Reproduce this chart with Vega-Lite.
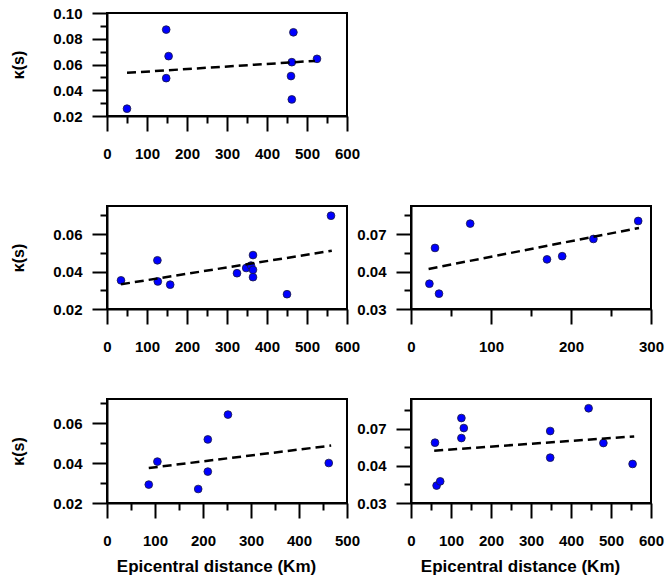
{
  "$schema": "https://vega.github.io/schema/vega-lite/v6.json",
  "background": "white",
  "padding": {"left": 9, "top": 5, "right": 5, "bottom": 5},
  "bounds": "flush",
  "columns": 2,
  "spacing": {"row": 90, "column": 64},
  "datasets": {
    "golp": [
      {"dist": 50, "k": 0.0257},
      {"dist": 148, "k": 0.0871},
      {"dist": 154, "k": 0.0665},
      {"dist": 148, "k": 0.0494},
      {"dist": 466, "k": 0.085},
      {"dist": 462, "k": 0.0618},
      {"dist": 460, "k": 0.051},
      {"dist": 462, "k": 0.0329},
      {"dist": 525, "k": 0.0644}
    ],
    "golp_fit": [{"dist": 50, "k": 0.0535}, {"dist": 520, "k": 0.0628}],
    "gwat": [
      {"dist": 35, "k": 0.0353},
      {"dist": 126, "k": 0.046},
      {"dist": 127, "k": 0.0347},
      {"dist": 158, "k": 0.033},
      {"dist": 325, "k": 0.0391},
      {"dist": 348, "k": 0.0419},
      {"dist": 360, "k": 0.0432},
      {"dist": 365, "k": 0.0409},
      {"dist": 365, "k": 0.0488},
      {"dist": 365, "k": 0.037},
      {"dist": 450, "k": 0.0279},
      {"dist": 560, "k": 0.0698}
    ],
    "gwat_fit": [{"dist": 35, "k": 0.0332}, {"dist": 562, "k": 0.0511}],
    "gang": [
      {"dist": 23, "k": 0.0335},
      {"dist": 30, "k": 0.0526},
      {"dist": 35, "k": 0.0282},
      {"dist": 74, "k": 0.0656},
      {"dist": 170, "k": 0.0465},
      {"dist": 189, "k": 0.0482},
      {"dist": 228, "k": 0.0574},
      {"dist": 284, "k": 0.067}
    ],
    "gang_fit": [{"dist": 22, "k": 0.0414}, {"dist": 285, "k": 0.0633}],
    "diphu": [
      {"dist": 87, "k": 0.0292},
      {"dist": 105, "k": 0.0407},
      {"dist": 190, "k": 0.027},
      {"dist": 210, "k": 0.0518},
      {"dist": 210, "k": 0.0357},
      {"dist": 252, "k": 0.0642},
      {"dist": 462, "k": 0.04}
    ],
    "diphu_fit": [{"dist": 87, "k": 0.0375}, {"dist": 467, "k": 0.0487}],
    "bong": [
      {"dist": 60, "k": 0.0526},
      {"dist": 64, "k": 0.0294},
      {"dist": 73, "k": 0.0317},
      {"dist": 126, "k": 0.0659},
      {"dist": 132, "k": 0.0605},
      {"dist": 126, "k": 0.0551},
      {"dist": 348, "k": 0.0589},
      {"dist": 348, "k": 0.0445},
      {"dist": 444, "k": 0.0712},
      {"dist": 481, "k": 0.0524},
      {"dist": 554, "k": 0.0411}
    ],
    "bong_fit": [{"dist": 58, "k": 0.0483}, {"dist": 558, "k": 0.056}],
    "blank": [{"a": 1}]
  },
  "config": {
    "font": "Liberation Sans",
    "view": {"stroke": "black", "strokeWidth": 2},
    "axis": {
      "domainColor": "black",
      "domainWidth": 2,
      "tickColor": "black",
      "tickWidth": 2,
      "grid": false,
      "labelFont": "Liberation Sans",
      "labelFontWeight": "bold",
      "labelFontSize": 15,
      "labelColor": "black",
      "labelOverlap": false,
      "titleFont": "Liberation Sans",
      "titleFontWeight": "bold",
      "titleFontSize": 16,
      "titleColor": "black"
    },
    "axisX": {"labelPadding": 30, "labelFlush": false, "ticks": false},
    "axisY": {"labelPadding": 25, "ticks": false}
  },
  "concat": [
    {
      "width": 240,
      "height": 103,
      "resolve": {"axis": {"x": "independent", "y": "independent"}},
      "layer": [
        {
          "data": {"name": "golp"},
          "mark": {"type": "point", "shape": "circle", "filled": true, "opacity": 1, "size": 60, "color": "#0000ff", "stroke": "#1a1a40", "strokeWidth": 0.8},
          "encoding": {
            "x": {"field": "dist", "type": "quantitative", "scale": {"domain": [0, 600], "nice": false},
              "axis": {"orient": "bottom", "title": null, "values": [0,100,200,300,400,500,600]}},
            "y": {"field": "k", "type": "quantitative", "scale": {"domain": [0.02, 0.10], "nice": false, "zero": false},
              "axis": {"orient": "left", "title": "κ(s)", "titlePadding": 26, "format": ".2f", "values": [0.02,0.04,0.06,0.08,0.10]}}
          }
        },
        {
          "data": {"name": "golp_fit"},
          "mark": {"type": "line", "color": "black", "strokeWidth": 2.5, "strokeDash": [9, 5]},
          "encoding": {
            "x": {"field": "dist", "type": "quantitative", "axis": {"orient": "bottom", "title": null, "labels": false, "domain": false, "ticks": true, "values": [50,150,250,350,450,550], "tickSize": 7}},
            "y": {"field": "k", "type": "quantitative", "axis": {"orient": "left", "title": null, "labels": false, "domain": false, "ticks": true, "values": [0.03,0.05,0.07,0.09], "tickSize": 7}}
          }
        },
        {
          "mark": {"type": "text", "text": "GOLP", "align": "right", "baseline": "middle", "fontSize": 17, "fontWeight": "bold", "font": "Liberation Sans", "color": "black"},
          "encoding": {
            "x": {"datum": 588, "type": "quantitative", "axis": {"orient": "bottom", "title": null, "labels": false, "domain": false, "ticks": true, "values": [0,100,200,300,400,500,600], "tickSize": 15}},
            "y": {"datum": 0.0891, "type": "quantitative", "axis": {"orient": "left", "title": null, "labels": false, "domain": false, "ticks": true, "values": [0.02,0.04,0.06,0.08,0.10], "tickSize": 15}}
          }
        }
      ]
    },
    {
      "width": 240,
      "height": 103,
      "view": {"stroke": null},
      "data": {"name": "blank"},
      "mark": {"type": "point", "opacity": 0},
      "encoding": {
        "x": {"field": "a", "type": "quantitative", "axis": null},
        "y": {"field": "a", "type": "quantitative", "axis": null}
      }
    },
    {
      "width": 240,
      "height": 103,
      "resolve": {"axis": {"x": "independent", "y": "independent"}},
      "layer": [
        {
          "data": {"name": "gwat"},
          "mark": {"type": "point", "shape": "circle", "filled": true, "opacity": 1, "size": 60, "color": "#0000ff", "stroke": "#1a1a40", "strokeWidth": 0.8},
          "encoding": {
            "x": {"field": "dist", "type": "quantitative", "scale": {"domain": [0, 600], "nice": false},
              "axis": {"orient": "bottom", "title": null, "values": [0,100,200,300,400,500,600]}},
            "y": {"field": "k", "type": "quantitative", "scale": {"domain": [0.02, 0.075], "nice": false, "zero": false},
              "axis": {"orient": "left", "title": "κ(s)", "titlePadding": 26, "format": ".2f", "values": [0.02,0.04,0.06]}}
          }
        },
        {
          "data": {"name": "gwat_fit"},
          "mark": {"type": "line", "color": "black", "strokeWidth": 2.5, "strokeDash": [9, 5]},
          "encoding": {
            "x": {"field": "dist", "type": "quantitative", "axis": {"orient": "bottom", "title": null, "labels": false, "domain": false, "ticks": true, "values": [50,150,250,350,450,550], "tickSize": 7}},
            "y": {"field": "k", "type": "quantitative", "axis": {"orient": "left", "title": null, "labels": false, "domain": false, "ticks": true, "values": [0.03,0.05,0.07], "tickSize": 7}}
          }
        },
        {
          "mark": {"type": "text", "text": "GWAT", "align": "right", "baseline": "middle", "fontSize": 17, "fontWeight": "bold", "font": "Liberation Sans", "color": "black"},
          "encoding": {
            "x": {"datum": 522, "type": "quantitative", "axis": {"orient": "bottom", "title": null, "labels": false, "domain": false, "ticks": true, "values": [0,100,200,300,400,500,600], "tickSize": 15}},
            "y": {"datum": 0.065, "type": "quantitative", "axis": {"orient": "left", "title": null, "labels": false, "domain": false, "ticks": true, "values": [0.02,0.04,0.06], "tickSize": 15}}
          }
        }
      ]
    },
    {
      "width": 240,
      "height": 103,
      "resolve": {"axis": {"x": "independent", "y": "independent"}},
      "layer": [
        {
          "data": {"name": "gang"},
          "mark": {"type": "point", "shape": "circle", "filled": true, "opacity": 1, "size": 60, "color": "#0000ff", "stroke": "#1a1a40", "strokeWidth": 0.8},
          "encoding": {
            "x": {"field": "dist", "type": "quantitative", "scale": {"domain": [0, 300], "nice": false},
              "axis": {"orient": "bottom", "title": null, "values": [0,100,200,300]}},
            "y": {"field": "k", "type": "quantitative", "scale": {"domain": [0.02, 0.075], "nice": false, "zero": false},
              "axis": {"orient": "left", "title": null, "values": [0.02,0.04,0.06],
                "labelExpr": "datum.value < 0.03 ? '0.03' : datum.value < 0.05 ? '0.04' : '0.07'"}}
          }
        },
        {
          "data": {"name": "gang_fit"},
          "mark": {"type": "line", "color": "black", "strokeWidth": 2.5, "strokeDash": [9, 5]},
          "encoding": {
            "x": {"field": "dist", "type": "quantitative", "axis": {"orient": "bottom", "title": null, "labels": false, "domain": false, "ticks": true, "values": [50,150,250], "tickSize": 7}},
            "y": {"field": "k", "type": "quantitative", "axis": {"orient": "left", "title": null, "labels": false, "domain": false, "ticks": true, "values": [0.03,0.05,0.07], "tickSize": 7}}
          }
        },
        {
          "mark": {"type": "text", "text": "GANG", "align": "right", "baseline": "middle", "fontSize": 17, "fontWeight": "bold", "font": "Liberation Sans", "color": "black"},
          "encoding": {
            "x": {"datum": 251, "type": "quantitative", "axis": {"orient": "bottom", "title": null, "labels": false, "domain": false, "ticks": true, "values": [0,100,200,300], "tickSize": 15}},
            "y": {"datum": 0.0676, "type": "quantitative", "axis": {"orient": "left", "title": null, "labels": false, "domain": false, "ticks": true, "values": [0.02,0.04,0.06], "tickSize": 15}}
          }
        }
      ]
    },
    {
      "width": 240,
      "height": 104,
      "resolve": {"axis": {"x": "independent", "y": "independent"}},
      "layer": [
        {
          "data": {"name": "diphu"},
          "mark": {"type": "point", "shape": "circle", "filled": true, "opacity": 1, "size": 60, "color": "#0000ff", "stroke": "#1a1a40", "strokeWidth": 0.8},
          "encoding": {
            "x": {"field": "dist", "type": "quantitative", "scale": {"domain": [0, 500], "nice": false},
              "axis": {"orient": "bottom", "title": "Epicentral distance (Km)", "titleFontSize": 17, "titlePadding": 10, "titleX": 109, "values": [0,100,200,300,400,500]}},
            "y": {"field": "k", "type": "quantitative", "scale": {"domain": [0.02, 0.072], "nice": false, "zero": false},
              "axis": {"orient": "left", "title": "κ(s)", "titlePadding": 26, "format": ".2f", "values": [0.02,0.04,0.06]}}
          }
        },
        {
          "data": {"name": "diphu_fit"},
          "mark": {"type": "line", "color": "black", "strokeWidth": 2.5, "strokeDash": [9, 5]},
          "encoding": {
            "x": {"field": "dist", "type": "quantitative", "axis": {"orient": "bottom", "title": null, "labels": false, "domain": false, "ticks": true, "values": [50,150,250,350,450], "tickSize": 7}},
            "y": {"field": "k", "type": "quantitative", "axis": {"orient": "left", "title": null, "labels": false, "domain": false, "ticks": true, "values": [0.03,0.05,0.07], "tickSize": 7}}
          }
        },
        {
          "mark": {"type": "text", "text": "DIPHU", "align": "right", "baseline": "middle", "fontSize": 17, "fontWeight": "bold", "font": "Liberation Sans", "color": "black"},
          "encoding": {
            "x": {"datum": 473, "type": "quantitative", "axis": {"orient": "bottom", "title": null, "labels": false, "domain": false, "ticks": true, "values": [0,100,200,300,400,500], "tickSize": 15}},
            "y": {"datum": 0.0615, "type": "quantitative", "axis": {"orient": "left", "title": null, "labels": false, "domain": false, "ticks": true, "values": [0.02,0.04,0.06], "tickSize": 15}}
          }
        }
      ]
    },
    {
      "width": 240,
      "height": 104,
      "resolve": {"axis": {"x": "independent", "y": "independent"}},
      "layer": [
        {
          "data": {"name": "bong"},
          "mark": {"type": "point", "shape": "circle", "filled": true, "opacity": 1, "size": 60, "color": "#0000ff", "stroke": "#1a1a40", "strokeWidth": 0.8},
          "encoding": {
            "x": {"field": "dist", "type": "quantitative", "scale": {"domain": [0, 600], "nice": false},
              "axis": {"orient": "bottom", "title": "Epicentral distance (Km)", "titleFontSize": 17, "titlePadding": 10, "titleX": 109, "values": [0,100,200,300,400,500,600]}},
            "y": {"field": "k", "type": "quantitative", "scale": {"domain": [0.02, 0.0762], "nice": false, "zero": false},
              "axis": {"orient": "left", "title": null, "values": [0.02,0.04,0.06],
                "labelExpr": "datum.value < 0.03 ? '0.03' : datum.value < 0.05 ? '0.04' : '0.07'"}}
          }
        },
        {
          "data": {"name": "bong_fit"},
          "mark": {"type": "line", "color": "black", "strokeWidth": 2.5, "strokeDash": [9, 5]},
          "encoding": {
            "x": {"field": "dist", "type": "quantitative", "axis": {"orient": "bottom", "title": null, "labels": false, "domain": false, "ticks": true, "values": [50,150,250,350,450,550], "tickSize": 7}},
            "y": {"field": "k", "type": "quantitative", "axis": {"orient": "left", "title": null, "labels": false, "domain": false, "ticks": true, "values": [0.03,0.05,0.07], "tickSize": 7}}
          }
        },
        {
          "mark": {"type": "text", "text": "BONG", "align": "right", "baseline": "middle", "fontSize": 17, "fontWeight": "bold", "font": "Liberation Sans", "color": "black"},
          "encoding": {
            "x": {"datum": 590, "type": "quantitative", "axis": {"orient": "bottom", "title": null, "labels": false, "domain": false, "ticks": true, "values": [0,100,200,300,400,500,600], "tickSize": 15}},
            "y": {"datum": 0.0677, "type": "quantitative", "axis": {"orient": "left", "title": null, "labels": false, "domain": false, "ticks": true, "values": [0.02,0.04,0.06], "tickSize": 15}}
          }
        }
      ]
    }
  ]
}
